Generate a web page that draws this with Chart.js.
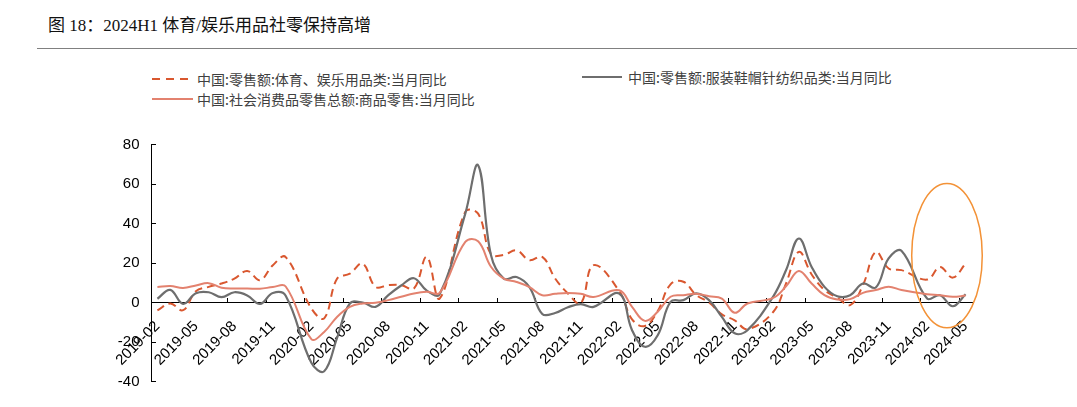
<!DOCTYPE html>
<html>
<head>
<meta charset="utf-8">
<script src="https://cdn.jsdelivr.net/npm/chart.js@4.4.1/dist/chart.umd.min.js"></script>
<style>
html,body{margin:0;padding:0;background:#fff;width:1077px;height:407px;overflow:hidden;}
#title{position:absolute;left:48px;top:15px;font-size:17px;line-height:22px;font-family:"Liberation Serif","Noto Sans CJK SC",serif;color:#111;white-space:nowrap;}
#rule{position:absolute;left:37px;width:1040px;top:48px;height:0;border-top:1.5px solid #808080;}
.leg{position:absolute;height:20px;font-size:14px;line-height:20px;font-family:"Noto Sans CJK SC",sans-serif;color:#404040;white-space:nowrap;}
.leg svg{position:absolute;left:0;top:0;}
#wrap{position:absolute;left:0;top:110px;width:1077px;height:297px;}
</style>
</head>
<body>
<div id="title">图 18：2024H1 体育/娱乐用品社零保持高增</div>
<div id="rule"></div>
<div id="legend"></div>
<div id="wrap"><canvas id="c" width="1077" height="297"></canvas></div>
<script>
// ---- data (monthly YoY %, Jan merged into Feb -> null) ----
const months = [];
for (let y = 2019; y <= 2024; y++) {
  for (let m = 1; m <= 12; m++) {
    if (y === 2019 && m < 2) continue;
    if (y === 2024 && m > 5) continue;
    months.push(y + '-' + String(m).padStart(2, '0'));
  }
}
const seriesNames = [
  '中国:零售额:体育、娱乐用品类:当月同比',
  '中国:零售额:服装鞋帽针纺织品类:当月同比',
  '中国:社会消费品零售总额:商品零售:当月同比'
];
// 体育、娱乐用品类
const sportsYoY = [
  -4, -0.5, -3.9, 5.7, 7.9, 9.6, 12.1, 16, 11.3, 18.9, 23,
  null, -3, -8, 12, 14.6, 19.7, 7.9, 8.8, 8.8, 7.1, 23.1, 2.0,
  null, 45.9, 45, 24.5, 24.1, 26.4, 21.4, 23.1, 12.2, 4.6, -0.5, 18.9,
  null, 5.8, -8.5, -11.9, -4.3, 9.2, 10.5, 3.8, 0, -6, -9, -13.5,
  null, -4.8, 9.6, 25.6, 14.2, 6.3, 2.4, -1.3, 8.8, 25.6, 17.2, 16.4,
  null, 11.6, 18, 12.6, 19.7
];
// 服装鞋帽针纺织品类
const apparelYoY = [
  1.9, 6.4, -0.7, 4.7, 5.2, 2.7, 5.2, 3.6, -0.7, 4.8, 3.4,
  null, -30.5, -34.8, -18, -0.5, 0, -2.2, 3.7, 8.6, 12.3, 6.0, 4.2,
  null, 45, 69.5, 24, 12.1, 12.9, 7.8, -5.8, -5.3, -2.4, -0.8, -2.2,
  null, 4.5, -14, -22.4, -16.6, 0.3, 1.2, 4.6, 1.2, -7.3, -15.6, -14,
  null, 3, 16.3, 32.4, 18, 7.9, 3.2, 3.7, 9.6, 7.6, 22.3, 26.2,
  null, 2.0, 3.7, -1.9, 4.2
];
// 商品零售
const goodsYoY = [
  7.8, 8.3, 7.4, 8.6, 9.8, 7.5, 7.1, 7.1, 7.0, 7.8, 8.1,
  null, -18.5, -14.9, -7.3, -2.2, -0.5, -0.1, 1.2, 2.9, 4.6, 5.4, 4.9,
  null, 30.7, 31, 18.1, 12.1, 10.4, 7.8, 3.7, 4.4, 4.8, 4.4, 2.8,
  null, 6.2, -2.2, -9.3, -4.7, 2.9, 3.7, 4.4, 3.2, 2.0, -5.2, -0.5,
  null, 2.3, 8.2, 16, 9.6, 3.7, 1.5, 1.7, 4.9, 6.3, 8.0, 6.3,
  null, 4.2, 3.7, 2.9, 3.5
];
const yMin = -40, yMax = 80, yStep = 20;
const colors = ['#D9572F', '#6E6E6E', '#E3826F'];

// ---- HTML legend ----
const legendSpots = [
  {left: 152, top: 69, lineW: 37, gap: 8},
  {left: 582, top: 67, lineW: 40, gap: 6},
  {left: 152, top: 89, lineW: 41, gap: 4}
];
const legendEl = document.getElementById('legend');
seriesNames.forEach((name, i) => {
  const s = legendSpots[i];
  const d = document.createElement('div');
  d.className = 'leg';
  d.style.left = s.left + 'px';
  d.style.top = s.top + 'px';
  d.style.paddingLeft = (s.lineW + s.gap) + 'px';
  const dash = i === 0 ? ' stroke-dasharray="8,6"' : '';
  d.innerHTML = '<svg width="' + s.lineW + '" height="20"><line x1="0" y1="10" x2="' + s.lineW +
    '" y2="10" stroke="' + colors[i] + '" stroke-width="2"' + dash + '/></svg>' + name;
  legendEl.appendChild(d);
});

// ---- highlight ellipse (annotation drawn through the scales) ----
const ellipsePlugin = {
  id: 'highlightEllipse',
  afterDatasetsDraw(chart) {
    const {ctx, scales: {x, y}} = chart;
    const x0 = x.getPixelForValue(58.8), x1 = x.getPixelForValue(64.3);
    const y0 = y.getPixelForValue(60.3), y1 = y.getPixelForValue(-12.8);
    ctx.save();
    ctx.beginPath();
    ctx.ellipse((x0 + x1) / 2, (y0 + y1) / 2, (x1 - x0) / 2, (y1 - y0) / 2, 0, 0, Math.PI * 2);
    ctx.strokeStyle = '#F39237';
    ctx.lineWidth = 1.5;
    ctx.stroke();
    ctx.restore();
  }
};

const mk = (i, data, extra) => Object.assign({
  label: seriesNames[i], data, borderColor: colors[i], backgroundColor: colors[i],
  borderWidth: 2, pointRadius: 0, tension: 0.4, spanGaps: true, fill: false
}, extra);

new Chart(document.getElementById('c'), {
  type: 'line',
  data: {
    labels: months,
    datasets: [
      mk(0, sportsYoY, {borderDash: [8, 5], order: 3}),
      mk(1, apparelYoY, {borderWidth: 2.2, order: 2}),
      mk(2, goodsYoY, {order: 1})
    ]
  },
  options: {
    responsive: false,
    animation: false,
    devicePixelRatio: 1,
    layout: {padding: {left: 91, right: 105, top: 34.5, bottom: 25}},
    plugins: {legend: {display: false}, tooltip: {enabled: false}},
    scales: {
      x: {
        type: 'category',
        position: {y: 0},
        offset: true,
        grid: {
          offset: true, drawOnChartArea: false, drawTicks: true, tickLength: -5,
          color: c => (c.index % 3 === 0 ? '#000' : 'rgba(0,0,0,0)'), lineWidth: 1
        },
        border: {display: true, color: '#000', width: 1},
        ticks: {
          autoSkip: false, maxRotation: 45, minRotation: 45, padding: 20,
          color: '#000', font: {family: '"Liberation Sans", Arial, sans-serif', size: 15},
          callback: (v, i) => (i % 3 === 0 ? months[i] : '')
        }
      },
      y: {
        min: yMin, max: yMax,
        grid: {drawOnChartArea: false, drawTicks: true, tickLength: -5, color: '#000'},
        border: {display: true, color: '#000', width: 1},
        ticks: {
          stepSize: yStep, padding: 16.5, color: '#000',
          font: {family: '"Liberation Sans", Arial, sans-serif', size: 15}
        },
        afterFit: s => { s.width = 60; }
      }
    }
  },
  plugins: [ellipsePlugin]
});
</script>
</body>
</html>
